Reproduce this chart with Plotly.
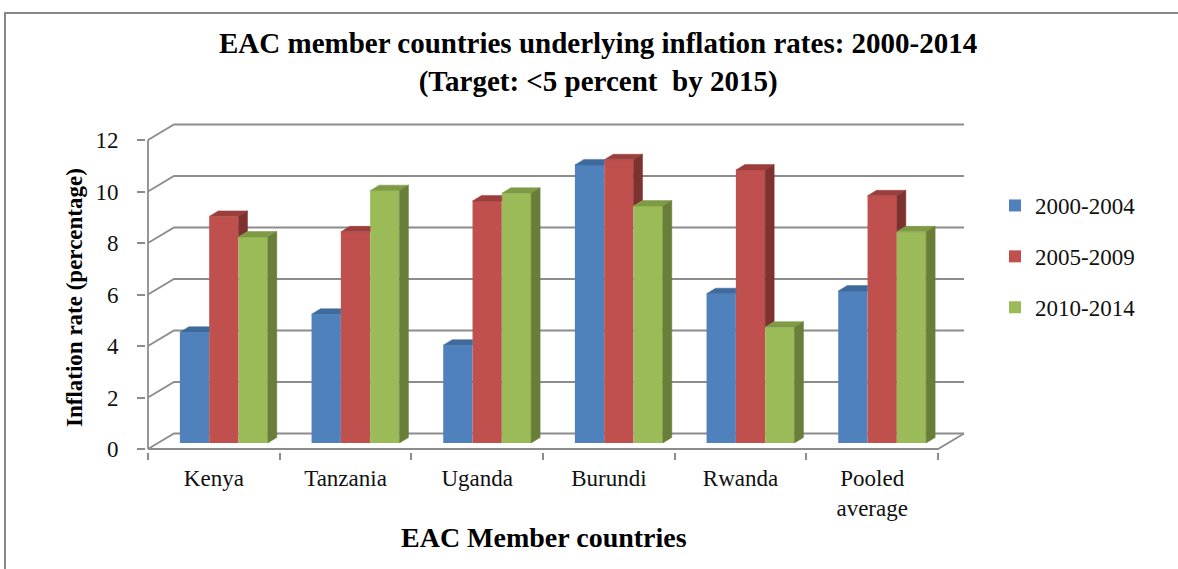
import plotly.graph_objects as go

# ---------------- data ----------------
categories = ["Kenya", "Tanzania", "Uganda", "Burundi", "Rwanda", "Pooled<br>average"]
series_names = ["2000-2004", "2005-2009", "2010-2014"]
s_2000_2004 = [4.3, 5.0, 3.8, 10.8, 5.8, 5.9]
s_2005_2009 = [8.8, 8.2, 9.4, 11.0, 10.6, 9.6]
s_2010_2014 = [8.0, 9.8, 9.7, 9.2, 4.5, 8.2]
y_ticks = [0, 2, 4, 6, 8, 10, 12]

# ---------------- style ----------------
front_colors = ["#4F81BD", "#C0504D", "#9BBB59"]
top_colors = ["#3E6A9C", "#9C3F3C", "#7E9A45"]
side_colors = ["#345783", "#7E3230", "#687E39"]
GRID = "#8C8C8C"
FONT = "Liberation Serif"

W, H = 1178, 569
L, R, T, B = 146, 972, 118, 452           # plot area in pixels
OX, OY = 148, 449                          # front origin (pixels)
PXX, PXY = 131.67, 25.75                   # pixels per category / per unit
BDX, BDY = 10, 6                           # bar plane offset (px)
WDX, WDY = 26, 15.5                        # back wall offset (px)
FDX, FDY = 9 / PXX, 5.5 / PXY              # bar depth in data units
BAR_W = 0.2225

xr = [(L - OX) / PXX - 0.5, (R - OX) / PXX - 0.5]
yr = [(OY - B) / PXY, (OY - T) / PXY]
x2r = [v - BDX / PXX for v in xr]
y2r = [v - BDY / PXY for v in yr]
wdx, wdy = WDX / PXX, WDY / PXY


def px_x(px):
    return (px - L) / (R - L)


def px_y(py):
    return (B - py) / (B - T)


fig = go.Figure()
n = len(categories)
x0, x1 = -0.5, n - 0.5

# ---- back wall gridlines + diagonals + floor (main subplot, behind bars) ----
gx, gy = [], []
for v in y_ticks:
    gx += [x0, x0 + wdx, x1 + wdx, None]
    gy += [v, v + wdy, v + wdy, None]
gx += [x0, x1, x1 + wdx, None]
gy += [0, 0, wdy, None]
gx += [x0, x0]
gy += [0, y_ticks[-1]]
fig.add_trace(go.Scatter(x=gx, y=gy, mode="lines", line=dict(color=GRID, width=1.8),
                         showlegend=False, hoverinfo="skip"))

# ---- bars (overlay subplot) ----
all_series = [s_2000_2004, s_2005_2009, s_2010_2014]
for j, (name, vals) in enumerate(zip(series_names, all_series)):
    fig.add_trace(go.Bar(x=list(range(n)), y=vals, name=name, marker_color=front_colors[j],
                         marker_line_width=0, xaxis="x2", yaxis="y2",
                         legendgroup=name))

for j, vals in enumerate(all_series):
    nxt = all_series[j + 1] if j < 2 else None
    tx, ty, sx, sy = [], [], [], []
    for k, v in enumerate(vals):
        left = k + (j - 1.5) * BAR_W
        right = left + BAR_W
        if nxt is not None and nxt[k] >= v:
            tx += [left, right, right, left + FDX, left, None]
            ty += [v, v, v + FDY, v + FDY, v, None]
        else:
            tx += [left, right, right + FDX, left + FDX, left, None]
            ty += [v, v, v + FDY, v + FDY, v, None]
        if nxt is None:
            sx += [right, right, right + FDX, right + FDX, right, None]
            sy += [0, v, v + FDY, FDY, 0, None]
        elif v > nxt[k]:
            b0 = nxt[k]
            sx += [right, right, right + FDX, right + FDX, right, None]
            sy += [b0, v, v + FDY, b0 + FDY, b0, None]
    fig.add_trace(go.Scatter(x=tx, y=ty, mode="lines", fill="toself", fillcolor=top_colors[j],
                             line=dict(color=top_colors[j], width=0.5), xaxis="x2", yaxis="y2",
                             showlegend=False, hoverinfo="skip"))
    if sx:
        fig.add_trace(go.Scatter(x=sx, y=sy, mode="lines", fill="toself", fillcolor=side_colors[j],
                                 line=dict(color=side_colors[j], width=0.5), xaxis="x2", yaxis="y2",
                                 showlegend=False, hoverinfo="skip"))

tick_font = dict(size=23, family=FONT, color="#111111")
fig.update_layout(
    template="none",
    width=W, height=H,
    margin=dict(l=L, r=W - R, t=T, b=H - B, pad=0, autoexpand=False),
    paper_bgcolor="white", plot_bgcolor="white",
    barmode="group", bargap=1 - 3 * BAR_W, bargroupgap=0,
    font=dict(family=FONT, color="#111111"),
    xaxis=dict(range=xr, tickmode="array", tickvals=list(range(n)), ticktext=categories,
               ticks="", showgrid=False, zeroline=False, showline=False, automargin=False,
               tickfont=tick_font, ticklabelstandoff=10,
               minor=dict(tickmode="array", tickvals=[i - 0.5 for i in range(n + 1)],
                          ticks="outside", ticklen=7, tickwidth=1.8, tickcolor=GRID, showgrid=False)),
    yaxis=dict(range=yr, tickmode="array", tickvals=y_ticks, ticks="outside", ticklen=8,
               tickwidth=1.8, tickcolor=GRID, showgrid=False, zeroline=False, showline=False,
               automargin=False, tickfont=tick_font, ticklabelstandoff=14),
    xaxis2=dict(range=x2r, overlaying="x", anchor="y2", visible=False),
    yaxis2=dict(range=y2r, overlaying="y", anchor="x2", visible=False),
    legend=dict(x=px_x(995), y=px_y(184), xanchor="left", yanchor="top",
                font=dict(size=23, family=FONT, color="#111111"),
                traceorder="grouped", tracegroupgap=18, bgcolor="rgba(0,0,0,0)"),
    showlegend=True,
)

ann_font = dict(family=FONT, color="#000000")
fig.add_annotation(text="<b>EAC member countries underlying inflation rates: 2000-2014</b><br>"
                        "<b>(Target: &lt;5 percent \u00a0by 2015)</b>",
                   x=px_x(598), y=px_y(62), xref="paper", yref="paper", showarrow=False,
                   xanchor="center", yanchor="middle", align="center",
                   font=dict(size=29, **ann_font))
fig.add_annotation(text="<b>EAC Member countries</b>",
                   x=px_x(544), y=px_y(537), xref="paper", yref="paper", showarrow=False,
                   xanchor="center", yanchor="middle", font=dict(size=28, **ann_font))
fig.add_annotation(text="<b>Inflation rate (percentage)</b>", textangle=-90,
                   x=px_x(74), y=px_y(298), xref="paper", yref="paper", showarrow=False,
                   xanchor="center", yanchor="middle", font=dict(size=23, **ann_font))

fig.add_shape(type="rect", xref="paper", yref="paper",
              x0=px_x(5), y0=px_y(H + 20), x1=px_x(W + 20), y1=px_y(13),
              line=dict(color="#888888", width=2), layer="below")

fig.write_html("out.html", post_script="document.body.style.margin='0px';",
               config={"displayModeBar": False})
